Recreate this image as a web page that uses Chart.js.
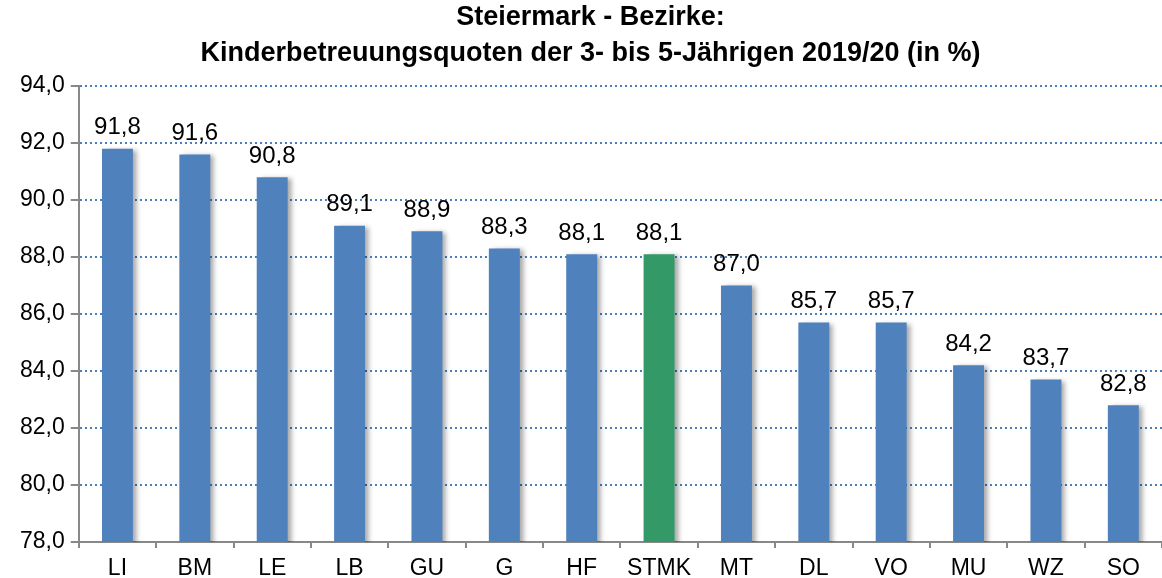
<!DOCTYPE html>
<html>
<head>
<meta charset="utf-8">
<script src="https://cdn.jsdelivr.net/npm/chart.js@4/dist/chart.umd.min.js"></script>
<style>
  html, body { margin: 0; padding: 0; background: #fff; }
  #wrap { width: 1162px; height: 578px; }
</style>
</head>
<body>
<div id="wrap"><canvas id="myChart"></canvas></div>
<script>
var bezirke = ['LI', 'BM', 'LE', 'LB', 'GU', 'G', 'HF', 'STMK', 'MT', 'DL', 'VO', 'MU', 'WZ', 'SO'];
var quoten = [91.8, 91.6, 90.8, 89.1, 88.9, 88.3, 88.1, 88.1, 87.0, 85.7, 85.7, 84.2, 83.7, 82.8];
var titel = ['Steiermark - Bezirke:', 'Kinderbetreuungsquoten der 3- bis 5-Jährigen 2019/20 (in %)'];

var blau = '#4f81bd';
var gruen = '#339966';
var fontName = "'Liberation Sans', Arial, sans-serif";

function komma(v) {
    return v.toFixed(1).replace('.', ',');
}

// shadow on the right side of the bars + value labels
var barExtras = {
    id: 'barExtras',
    beforeDatasetDraw: function(chart) {
        var c = chart.ctx;
        c.save();
        c.shadowColor = 'rgba(0,0,0,0.35)';
        c.shadowBlur = 5;
        c.shadowOffsetX = 4;
        c.shadowOffsetY = 1;
    },
    afterDatasetDraw: function(chart) {
        chart.ctx.restore();
    },
    afterDatasetsDraw: function(chart) {
        var c = chart.ctx;
        var meta = chart.getDatasetMeta(0);
        c.save();
        c.font = '24px ' + fontName;
        c.fillStyle = '#000';
        c.textAlign = 'center';
        c.textBaseline = 'bottom';
        meta.data.forEach(function(bar, i) {
            c.fillText(komma(quoten[i]), bar.x, bar.y - 9);
        });
        c.restore();
    }
};

var ctx = document.getElementById('myChart').getContext('2d');
var myChart = new Chart(ctx, {
    type: 'bar',
    data: {
        labels: bezirke,
        datasets: [{
            data: quoten,
            backgroundColor: bezirke.map(function(b) { return b == 'STMK' ? gruen : blau; }),
            barPercentage: 0.4,
            categoryPercentage: 1.0
        }]
    },
    options: {
        responsive: true,
        maintainAspectRatio: false,
        animation: false,
        layout: {
            padding: { left: 14, right: -5, top: 0, bottom: -11 }
        },
        plugins: {
            legend: { display: false },
            tooltip: { enabled: false },
            title: {
                display: true,
                text: titel,
                color: '#000',
                font: { family: fontName, size: 27, weight: 'bold', lineHeight: 1.333 },
                padding: { top: 0, bottom: 14 }
            }
        },
        scales: {
            x: {
                grid: {
                    display: true,
                    drawOnChartArea: false,
                    drawTicks: true,
                    tickLength: 6,
                    offset: true,
                    color: '#888888',
                    lineWidth: 2
                },
                border: { display: true, color: '#888888', width: 2 },
                ticks: {
                    color: '#000',
                    padding: 9,
                    font: { family: fontName, size: 23, lineHeight: 1.0 }
                }
            },
            y: {
                min: 78,
                max: 94,
                ticks: {
                    stepSize: 2,
                    color: '#000',
                    padding: 6,
                    font: { family: fontName, size: 23 },
                    callback: function(v) { return komma(v); }
                },
                grid: {
                    color: '#4a7ebb',
                    lineWidth: 2,
                    tickLength: 8,
                    tickColor: '#888888',
                    tickWidth: 2,
                    tickBorderDash: []
                },
                border: { display: true, color: '#888888', width: 2, dash: [2, 3] }
            }
        }
    },
    plugins: [barExtras]
});
</script>
</body>
</html>
